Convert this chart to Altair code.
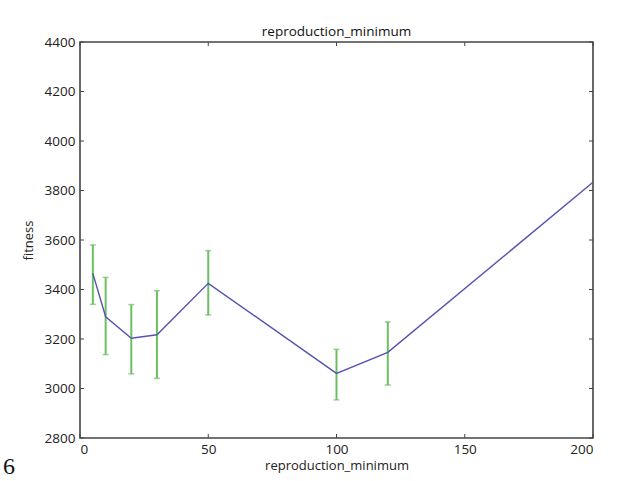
import altair as alt
import pandas as pd

x_vals = [5, 10, 20, 30, 50, 100, 120, 200]
fitness = [3465, 3290, 3203, 3217, 3425, 3061, 3146, 3833]
err_low = [3340, 3137, 3059, 3041, 3297, 2954, 3014, 3833]
err_high = [3580, 3449, 3339, 3395, 3557, 3158, 3269, 3833]
x_ticks = [0, 50, 100, 150, 200]
y_ticks = [2800, 3000, 3200, 3400, 3600, 3800, 4000, 4200, 4400]
page_label = ["6"]

df = pd.DataFrame({"x": x_vals, "y": fitness, "lo": err_low, "hi": err_high})
err_df = df.iloc[:7]

FONT = "Open Sans"
xs = alt.Scale(domain=[0, 200], nice=False, zero=False)
ys = alt.Scale(domain=[2800, 4400], nice=False, zero=False)

base = alt.Chart(df)

line = base.mark_line(color="#5454b4", strokeWidth=1.4).encode(
    x=alt.X("x:Q", scale=xs, title="reproduction_minimum",
            axis=alt.Axis(values=x_ticks, ticks=False, domain=False, grid=False, format="d",
                          labelFont=FONT, labelFontSize=13.5, labelColor="#222",
                          labelPadding=4, titleFont=FONT, titleFontSize=13,
                          titleFontWeight="normal", titleColor="#222", titlePadding=4)),
    y=alt.Y("y:Q", scale=ys, title="fitness",
            axis=alt.Axis(values=y_ticks, ticks=False, domain=False, grid=False, format="d",
                          labelFont=FONT, labelFontSize=13.5, labelColor="#222",
                          labelPadding=5, titleFont=FONT, titleFontSize=13,
                          titleFontWeight="normal", titleColor="#222", titlePadding=9)),
)

err = alt.Chart(err_df).mark_rule(color="#6cbf62", strokeWidth=2).encode(
    x=alt.X("x:Q", scale=xs), y=alt.Y("lo:Q", scale=ys), y2="hi:Q")
cap_lo = alt.Chart(err_df).mark_tick(color="#6cbf62", orient="horizontal", size=6, thickness=1.5).encode(
    x=alt.X("x:Q", scale=xs), y=alt.Y("lo:Q", scale=ys))
cap_hi = alt.Chart(err_df).mark_tick(color="#6cbf62", orient="horizontal", size=6, thickness=1.5).encode(
    x=alt.X("x:Q", scale=xs), y=alt.Y("hi:Q", scale=ys))

xt = pd.DataFrame({"t": x_ticks})
yt = pd.DataFrame({"t": y_ticks})
tick_color = "#444"
xtick_bot = alt.Chart(xt).mark_rule(color=tick_color).encode(
    x=alt.X("t:Q", scale=xs), y=alt.value(396), y2=alt.value(392))
xtick_top = alt.Chart(xt).mark_rule(color=tick_color).encode(
    x=alt.X("t:Q", scale=xs), y=alt.value(0), y2=alt.value(4))
ytick_l = alt.Chart(yt).mark_rule(color=tick_color).encode(
    y=alt.Y("t:Q", scale=ys), x=alt.value(0), x2=alt.value(4))
ytick_r = alt.Chart(yt).mark_rule(color=tick_color).encode(
    y=alt.Y("t:Q", scale=ys), x=alt.value(513), x2=alt.value(509))

page = alt.Chart(pd.DataFrame({"t": page_label})).mark_text(
    font="Liberation Serif", fontSize=24, color="#111", align="left", baseline="alphabetic"
).encode(text="t:N", x=alt.value(-77), y=alt.value(432))

chart = alt.layer(err, cap_lo, cap_hi, line, xtick_bot, xtick_top, ytick_l, ytick_r, page).properties(
    width=513, height=396,
    title=alt.TitleParams("reproduction_minimum", font=FONT, fontSize=13.5,
                          fontWeight="normal", color="#111", offset=-3),
    autosize=alt.AutoSizeParams(type="none"),
    padding={"left": 80, "top": 42, "right": 29, "bottom": 43},
).configure_view(stroke="#444", strokeWidth=1.6)

chart.save("out.html", embed_options={"renderer": "svg", "actions": False})
